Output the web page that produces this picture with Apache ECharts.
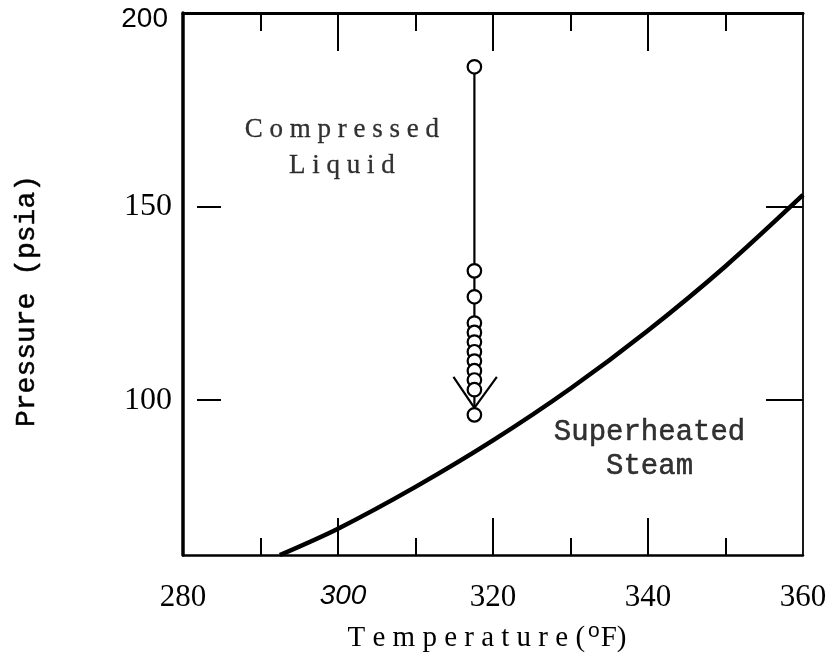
<!DOCTYPE html>
<html>
<head>
<meta charset="utf-8">
<script src="https://cdn.jsdelivr.net/npm/echarts@6/dist/echarts.min.js"></script>
<style>
  html, body { margin: 0; padding: 0; background: #fff; }
  #chart { width: 836px; height: 663px; }
</style>
</head>
<body>
<div id="chart"></div>
<script>
// Saturation line of water: temperature (°F) vs pressure (psia)
const satTemp = [292.5, 300, 310, 320, 330, 340, 350, 360];
const satPressure = [60, 66.8, 77.6, 89.6, 103, 118, 134.6, 153];

// Isothermal compression path (circles), all at the same temperature
const pathTemp = 317.6;
const pathPressure = [186.1, 133.4, 126.7, 119.9, 117.5, 115.0, 112.5, 110.1, 107.6, 105.2, 102.7, 96.2];

// Arrow head at the lower end of the path
const arrowTemp = [314.9, 317.6, 320.5];
const arrowPressure = [106.0, 98.0, 106.0];

// Axis ticks and labels
const xTickLabels = [280, 300, 320, 340, 360];
const xMajorTicks = [300, 320, 340];
const yTickLabels = [100, 150, 200];
const yTicks = [100, 150];

// Region annotations: [temperature, pressure, text, style]
const regionLabels = [
  [300.5, 165.2, 'Compressed\nLiquid', 'serifNote'],
  [340.2, 87.4, 'Superheated\nSteam', 'monoNote']
];

const GAP = '\u2005';
const spread = (s, g) => s.split('').join(g);

const chart = echarts.init(document.getElementById('chart'));

const tempTitle = '{a|' + spread('Temperature', GAP) + GAP + '(}{s|o}{a|F)}';

const option = {
  backgroundColor: '#ffffff',
  animation: false,
  grid: { left: 183, right: 33, top: 13, bottom: 108 },
  xAxis: [
    {
      type: 'value', position: 'bottom', min: 280, max: 360, interval: 20,
      axisLine: { show: true, lineStyle: { color: '#000', width: 2.5 } },
      axisTick: { show: true, inside: true, length: 37, customValues: xMajorTicks, lineStyle: { color: '#000', width: 2 } },
      minorTick: { show: true, splitNumber: 2, length: 17, lineStyle: { color: '#000', width: 2 } },
      splitLine: { show: false },
      axisLabel: {
        show: true, margin: 27, customValues: xTickLabels,
        formatter: v => v === 300 ? '{i|300}' : '{n|' + v + '}',
        rich: {
          n: { fontFamily: 'Liberation Serif', fontSize: 31, color: '#000' },
          i: { fontFamily: 'Liberation Sans', fontStyle: 'italic', fontSize: 28, color: '#000', padding: [0, 0, 0, 10] }
        }
      },
      name: tempTitle,
      nameLocation: 'middle',
      nameGap: 66,
      nameTextStyle: {
        padding: [0, 12, 0, 0],
        rich: {
          a: { fontFamily: 'Liberation Serif', fontSize: 29, color: '#000', lineHeight: 34 },
          s: { fontFamily: 'Liberation Sans', fontSize: 21, color: '#000', verticalAlign: 'top', lineHeight: 34, padding: [0, 1, 16, 3] }
        }
      }
    },
    {
      type: 'value', position: 'top', min: 280, max: 360, interval: 20,
      axisLine: { show: true, lineStyle: { color: '#000', width: 3 } },
      axisTick: { show: true, inside: true, length: 38, customValues: xMajorTicks, lineStyle: { color: '#000', width: 2 } },
      minorTick: { show: true, splitNumber: 2, length: 18, lineStyle: { color: '#000', width: 2 } },
      splitLine: { show: false },
      axisLabel: { show: false }
    }
  ],
  yAxis: [
    {
      type: 'value', position: 'left', min: 60, max: 200,
      axisLine: { show: true, lineStyle: { color: '#000', width: 3.5 } },
      axisTick: { show: false },
      splitLine: { show: false },
      axisLabel: {
        show: true, margin: 11, customValues: yTickLabels,
        formatter: v => v === 200 ? '{s|200}' : '{n|' + v + '}',
        rich: {
          n: { fontFamily: 'Liberation Serif', fontSize: 32, color: '#000' },
          s: { fontFamily: 'Liberation Sans', fontSize: 28, color: '#000', padding: [12, 4, 0, 0] }
        }
      },
      name: 'Pressure (psia)',
      nameLocation: 'middle',
      nameGap: 142,
      nameRotate: 90,
      nameTextStyle: {
        fontFamily: 'Liberation Mono', fontSize: 28, color: '#000',
        textBorderColor: '#000', textBorderWidth: 0.5,
        padding: [0, 34, 0, 0]
      }
    },
    {
      type: 'value', position: 'left', offset: -14, min: 60, max: 200,
      axisLine: { show: false },
      axisTick: { show: true, inside: true, length: 24, customValues: yTicks, lineStyle: { color: '#000', width: 2 } },
      splitLine: { show: false },
      axisLabel: { show: false }
    },
    {
      type: 'value', position: 'right', min: 60, max: 200,
      axisLine: { show: true, lineStyle: { color: '#000', width: 1.8 } },
      axisTick: { show: true, inside: true, length: 37, customValues: yTicks, lineStyle: { color: '#000', width: 2 } },
      splitLine: { show: false },
      axisLabel: { show: false }
    }
  ],
  series: [
    {
      name: 'Saturation',
      type: 'line',
      xAxisIndex: 0, yAxisIndex: 0,
      data: satTemp.map((t, i) => [t, satPressure[i]]),
      smooth: 0.3,
      showSymbol: false,
      lineStyle: { color: '#000', width: 4.5 },
      z: 3
    },
    {
      name: 'Compression',
      type: 'line',
      xAxisIndex: 0, yAxisIndex: 0,
      data: pathPressure.map(p => [pathTemp, p]),
      symbol: 'circle',
      symbolSize: 13.5,
      itemStyle: { color: '#fff', borderColor: '#000', borderWidth: 2.2 },
      lineStyle: { color: '#000', width: 2.2 },
      z: 4
    },
    {
      name: 'Arrow',
      type: 'line',
      xAxisIndex: 0, yAxisIndex: 0,
      data: arrowTemp.map((t, i) => [t, arrowPressure[i]]),
      showSymbol: false,
      lineStyle: { color: '#000', width: 2.2 },
      z: 6
    },
    {
      name: 'Regions',
      type: 'scatter',
      xAxisIndex: 0, yAxisIndex: 0,
      symbolSize: 0,
      data: regionLabels.map(r => ({ value: [r[0], r[1]], text: r[2], kind: r[3] })),
      label: {
        show: true,
        position: 'inside',
        color: '#000',
        formatter: p => {
          const lines = p.data.text.split('\n');
          if (p.data.kind === 'serifNote') {
            return lines.map(l => '{s|' + spread(l, GAP) + '}').join('\n');
          }
          return lines.map(l => '{m|' + l + '}').join('\n');
        },
        rich: {
          s: { fontFamily: 'Liberation Serif', fontSize: 27, color: '#000', textBorderColor: '#000', textBorderWidth: 0.3, lineHeight: 36, align: 'center' },
          m: { fontFamily: 'Liberation Mono', fontSize: 29, color: '#000', textBorderColor: '#000', textBorderWidth: 0.5, lineHeight: 34, align: 'center' }
        }
      },
      z: 7
    }
  ]
};

chart.setOption(option);
</script>
</body>
</html>
